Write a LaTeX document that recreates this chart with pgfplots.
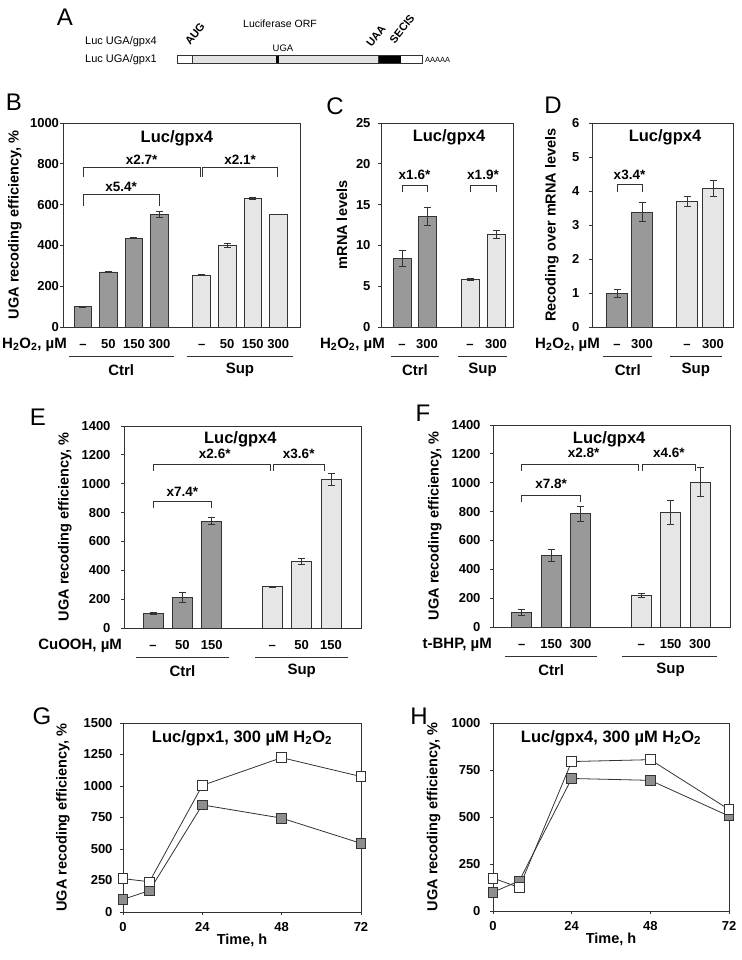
\documentclass[border=0pt]{standalone}
\usepackage{fontspec}
\setmainfont{Liberation Sans}
\usepackage{pgfplots}
\pgfplotsset{compat=1.18}
\definecolor{barD}{HTML}{999999}
\definecolor{barL}{HTML}{E6E6E6}
\definecolor{edge}{HTML}{333333}
\definecolor{sqD}{HTML}{8E8E8E}
\definecolor{orf}{HTML}{E2E2E2}
\newcommand{\fs}[1]{\fontsize{#1}{#1}\selectfont}
\pgfplotsset{
  myax/.style={scale only axis, anchor=south west, clip=false,
    axis line style={edge, line width=0.9pt},
    tick align=outside, major tick length=3pt, ytick pos=left, xtick pos=bottom,
    tick style={edge, line width=0.8pt},
    tick label style={font=\fs{13}\bfseries},
    /pgf/number format/assume math mode=true,
    /pgf/number format/1000 sep={},
    ylabel style={font=\fs{14.5}\bfseries, anchor=center},
    xlabel style={font=\fs{14.5}\bfseries, anchor=center},
  },
  baraxis/.style={myax, xtick style={draw=none}, ymin=0,
    xticklabel style={anchor=base, yshift=-18.5pt}},
  lineaxis/.style={myax, xticklabel style={anchor=base, yshift=-16.7pt}},
  ctrlbar/.style={ybar, bar shift=0pt, fill=barD, draw=edge, line width=0.8pt,
    error bars/.cd, y dir=both, y explicit,
    error bar style={line width=0.8pt, edge},
    error mark options={rotate=90, mark size=3.5pt, line width=0.8pt, edge}},
  supbar/.style={ybar, bar shift=0pt, fill=barL, draw=edge, line width=0.8pt,
    error bars/.cd, y dir=both, y explicit,
    error bar style={line width=0.8pt, edge},
    error mark options={rotate=90, mark size=3.5pt, line width=0.8pt, edge}},
}
\tikzset{
  brk/.style={edge, line width=0.8pt},
  ann/.style={font=\fs{13.5}\bfseries},
  ttl/.style={font=\fs{16.5}\bfseries},
  grp/.style={font=\fs{15}\bfseries},
  trt/.style={font=\fs{15}\bfseries, anchor=base east, inner sep=0pt},
  lett/.style={font=\fs{24}},
}
\begin{document}
\begin{tikzpicture}
\useasboundingbox (0pt,0pt) rectangle (741pt,-960pt);
% ---------------- Panel A (schematic)
\node[lett] at (65pt,-17pt) {A};
\node[font=\fs{11}, anchor=west, inner sep=0pt] at (85pt,-42pt) {Luc UGA/gpx4};
\node[font=\fs{11}, anchor=west, inner sep=0pt] at (85pt,-60pt) {Luc UGA/gpx1};
\fill[white] (177pt,-55pt) rectangle (422pt,-63pt);
\fill[orf] (192pt,-55pt) rectangle (276pt,-63pt);
\fill[black] (276pt,-55pt) rectangle (279pt,-63pt);
\fill[orf] (279pt,-55pt) rectangle (378pt,-63pt);
\fill[black] (379pt,-55pt) rectangle (401pt,-63pt);
\draw[edge, line width=0.5pt] (192pt,-55pt) -- (192pt,-63pt);
\draw[edge, line width=0.5pt] (378pt,-55pt) -- (378pt,-63pt);
\draw[edge, line width=0.7pt] (177pt,-55pt) rectangle (422pt,-63pt);
\node[font=\fs{10.5}] at (280pt,-24pt) {Luciferase ORF};
\node[font=\fs{9.5}] at (283pt,-48pt) {UGA};
\node[font=\fs{11}\bfseries, rotate=52, inner sep=0pt] at (195pt,-34pt) {AUG};
\node[font=\fs{11}\bfseries, rotate=52, inner sep=0pt] at (376pt,-36pt) {UAA};
\node[font=\fs{11}\bfseries, rotate=52, inner sep=0pt] at (402pt,-29pt) {SECIS};
\node[font=\fs{7.5}, anchor=west, inner sep=0pt] at (425pt,-60pt) {AAAAA};
% letters
\node[lett] at (14pt,-102pt) {B};
\node[lett] at (335pt,-106pt) {C};
\node[lett] at (553pt,-105pt) {D};
\node[lett] at (38pt,-417pt) {E};
\node[lett] at (423pt,-413pt) {F};
\node[lett] at (42pt,-716pt) {G};
\node[lett] at (419pt,-716pt) {H};
% ---------------- Panel B
\begin{axis}[baraxis, at={(63pt,-327pt)}, width=237pt, height=204pt,
  xmin=-0.78, xmax=8.5, ymax=1000, ytick={0,200,...,1000},
  bar width=0.69,
  xtick={0,1,2,3,4.65,5.65,6.65,7.65},
  xticklabels={\textendash,50,150,300,\textendash,50,150,300},
  yticklabel style={xshift=2.5pt},
  ylabel={UGA recoding efficiency, \%},
  ylabel style={at={(axis description cs:-0.2025,0.5)}}]
\addplot[ctrlbar] coordinates {(0,100) +- (0,2) (1,270) +- (0,4) (2,435) +- (0,3) (3,550) +- (0,15)};
\addplot[supbar] coordinates {(4.65,255) +- (0,3) (5.65,400) +- (0,8) (6.65,630) +- (0,5) (7.65,550) +- (0,0)};
\node[ttl] at (axis cs:3.68,926) {Luc/gpx4};
\draw[brk] (axis cs:0,595) |- (axis cs:3,650) -- (axis cs:3,595);
\node[ann] at (axis cs:1.5,688) {x5.4*};
\draw[brk] (axis cs:0,735) |- (axis cs:4.61,780) -- (axis cs:4.61,735);
\node[ann] at (axis cs:2.3,818) {x2.7*};
\draw[brk] (axis cs:4.69,735) |- (axis cs:7.63,780) -- (axis cs:7.63,735);
\node[ann] at (axis cs:6.16,818) {x2.1*};
\draw[brk] ([yshift=-29pt]axis cs:-0.55,0) -- ([yshift=-29pt]axis cs:3.58,0);
\draw[brk] ([yshift=-29pt]axis cs:4.07,0) -- ([yshift=-29pt]axis cs:8.23,0);
\node[grp] at ([yshift=-43pt]axis cs:1.5,0) {Ctrl};
\node[grp] at ([yshift=-43pt]axis cs:6.15,0) {Sup};
\node[trt] at ([yshift=-21.5pt]rel axis cs:0.017,0) {H\textsubscript{2}O\textsubscript{2}, µM};
\end{axis}
% ---------------- Panel C
\begin{axis}[baraxis, at={(381pt,-327pt)}, width=132pt, height=204pt,
  xmin=-0.84, xmax=4.44, ymax=25, ytick={0,5,...,25},
  bar width=0.72,
  xtick={0,1,2.72,3.76},
  xticklabels={\textendash,300,\textendash,300},
  yticklabel style={xshift=-4pt},
  ylabel={mRNA levels},
  ylabel style={at={(axis description cs:-0.295,0.5)}}]
\addplot[ctrlbar] coordinates {(0,8.4) +- (0,1.0) (1,13.6) +- (0,1.1)};
\addplot[supbar] coordinates {(2.72,5.8) +- (0,0.1) (3.76,11.3) +- (0,0.5)};
\node[ttl] at (axis cs:1.88,23.3) {Luc/gpx4};
\draw[brk] (axis cs:0,16.5) |- (axis cs:1,17.4) -- (axis cs:1,16.5);
\node[ann] at (axis cs:0.5,18.7) {x1.6*};
\draw[brk] (axis cs:2.72,16.5) |- (axis cs:3.76,17.4) -- (axis cs:3.76,16.5);
\node[ann] at (axis cs:3.24,18.7) {x1.9*};
\draw[brk] ([yshift=-29pt]axis cs:-0.44,0) -- ([yshift=-29pt]axis cs:1.48,0);
\draw[brk] ([yshift=-29pt]axis cs:2.24,0) -- ([yshift=-29pt]axis cs:4.2,0);
\node[grp] at ([yshift=-43pt]axis cs:0.52,0) {Ctrl};
\node[grp] at ([yshift=-43pt]axis cs:3.22,0) {Sup};
\node[trt] at ([yshift=-21.5pt]rel axis cs:0.03,0) {H\textsubscript{2}O\textsubscript{2}, µM};
\end{axis}
% ---------------- Panel D
\begin{axis}[baraxis, at={(592pt,-327pt)}, width=141pt, height=204pt,
  xmin=-1.0, xmax=4.64, ymax=6, ytick={0,1,...,6},
  bar width=0.86,
  xtick={0,1,2.8,3.84},
  xticklabels={\textendash,300,\textendash,300},
  yticklabel style={xshift=-6pt},
  ylabel={Recoding over mRNA levels},
  ylabel style={at={(axis description cs:-0.284,0.5)}}]
\addplot[ctrlbar] coordinates {(0,1.0) +- (0,0.12) (1,3.38) +- (0,0.28)};
\addplot[supbar] coordinates {(2.8,3.7) +- (0,0.15) (3.84,4.08) +- (0,0.23)};
\node[ttl] at (axis cs:1.92,5.59) {Luc/gpx4};
\draw[brk] (axis cs:0,3.98) |- (axis cs:1,4.18) -- (axis cs:1,3.98);
\node[ann] at (axis cs:0.5,4.48) {x3.4*};
\draw[brk] ([yshift=-29pt]axis cs:-0.55,0) -- ([yshift=-29pt]axis cs:1.4,0);
\draw[brk] ([yshift=-29pt]axis cs:2.12,0) -- ([yshift=-29pt]axis cs:4.19,0);
\node[grp] at ([yshift=-43pt]axis cs:0.43,0) {Ctrl};
\node[grp] at ([yshift=-43pt]axis cs:3.15,0) {Sup};
\node[trt] at ([yshift=-21.5pt]rel axis cs:0.057,0) {H\textsubscript{2}O\textsubscript{2}, µM};
\end{axis}
% ---------------- Panel E
\begin{axis}[baraxis, at={(124pt,-628pt)}, width=237pt, height=202pt,
  xmin=-0.99, xmax=7.08, ymax=1400, ytick={0,200,...,1400},
  bar width=0.68,
  xtick={0,1,2,4.06,5.06,6.06},
  xticklabels={\textendash,50,150,\textendash,50,150},
  yticklabel style={xshift=-7pt},
  ylabel={UGA recoding efficiency, \%},
  ylabel style={at={(axis description cs:-0.249,0.5)}}]
\addplot[ctrlbar] coordinates {(0,100) +- (0,5) (1,210) +- (0,35) (2,740) +- (0,25)};
\addplot[supbar] coordinates {(4.06,285) +- (0,5) (5.06,462) +- (0,20) (6.06,1030) +- (0,40)};
\node[ttl] at (axis cs:2.97,1310) {Luc/gpx4};
\draw[brk] (axis cs:0,832) |- (axis cs:2,875) -- (axis cs:2,832);
\node[ann] at (axis cs:1,945) {x7.4*};
\draw[brk] (axis cs:0,1090) |- (axis cs:3.98,1136) -- (axis cs:3.98,1090);
\node[ann] at (axis cs:2.1,1206) {x2.6*};
\draw[brk] (axis cs:4.08,1090) |- (axis cs:5.85,1136) -- (axis cs:5.85,1090);
\node[ann] at (axis cs:4.96,1206) {x3.6*};
\draw[brk] ([yshift=-29pt]axis cs:-0.58,0) -- ([yshift=-29pt]axis cs:2.6,0);
\draw[brk] ([yshift=-29pt]axis cs:3.48,0) -- ([yshift=-29pt]axis cs:6.64,0);
\node[grp] at ([yshift=-43pt]axis cs:1,0) {Ctrl};
\node[grp] at ([yshift=-43pt]axis cs:5.06,0) {Sup};
\node[trt] at ([yshift=-21.5pt]rel axis cs:-0.008,0) {CuOOH, µM};
\end{axis}
% ---------------- Panel F
\begin{axis}[baraxis, at={(493pt,-627pt)}, width=237pt, height=202pt,
  xmin=-0.98, xmax=7.08, ymax=1400, ytick={0,200,...,1400},
  bar width=0.68,
  xtick={0,1,2,4.06,5.06,6.06},
  xticklabels={\textendash,150,300,\textendash,150,300},
  yticklabel style={xshift=-6pt},
  ylabel={UGA recoding efficiency, \%},
  ylabel style={at={(axis description cs:-0.245,0.5)}}]
\addplot[ctrlbar] coordinates {(0,100) +- (0,20) (1,495) +- (0,40) (2,785) +- (0,50)};
\addplot[supbar] coordinates {(4.06,220) +- (0,15) (5.06,795) +- (0,85) (6.06,1005) +- (0,100)};
\node[ttl] at (axis cs:2.97,1303) {Luc/gpx4};
\draw[brk] (axis cs:0,868) |- (axis cs:2,915) -- (axis cs:2,868);
\node[ann] at (axis cs:1,991) {x7.8*};
\draw[brk] (axis cs:0,1083) |- (axis cs:3.97,1130) -- (axis cs:3.97,1083);
\node[ann] at (axis cs:2.1,1206) {x2.8*};
\draw[brk] (axis cs:4.09,1083) |- (axis cs:5.9,1130) -- (axis cs:5.9,1083);
\node[ann] at (axis cs:5.0,1206) {x4.6*};
\draw[brk] ([yshift=-29pt]axis cs:-0.58,0) -- ([yshift=-29pt]axis cs:2.54,0);
\draw[brk] ([yshift=-29pt]axis cs:3.42,0) -- ([yshift=-29pt]axis cs:6.64,0);
\node[grp] at ([yshift=-43pt]axis cs:1,0) {Ctrl};
\node[grp] at ([yshift=-43pt]axis cs:5.06,0) {Sup};
\node[trt] at ([yshift=-21.5pt]rel axis cs:-0.004,0) {t-BHP, µM};
\end{axis}
% ---------------- Panel G
\begin{axis}[lineaxis, at={(123pt,-912pt)}, width=238pt, height=189pt,
  xmin=0, xmax=72, ymin=0, ymax=1500, xtick={0,24,48,72}, ytick={0,250,...,1500},
  yticklabel style={xshift=-4pt},
  xlabel={Time, h}, xlabel style={at={(axis description cs:0.5,-0.148)}},
  ylabel={UGA recoding efficiency, \%},
  ylabel style={at={(axis description cs:-0.252,0.5)}}]
\addplot[edge, line width=0.8pt, mark=square*, mark size=4.8pt, mark options={fill=sqD, draw=edge, line width=0.8pt}] coordinates {(0,100) (8,170) (24,850) (48,745) (72,545)};
\addplot[edge, line width=0.8pt, mark=square*, mark size=4.8pt, mark options={fill=white, draw=edge, line width=0.8pt}] coordinates {(0,265) (8,240) (24,1005) (48,1225) (72,1075)};
\node[ttl] at (axis cs:36,1381) {Luc/gpx1, 300 µM H\textsubscript{2}O\textsubscript{2}};
\end{axis}
% ---------------- Panel H
\begin{axis}[lineaxis, at={(493pt,-911pt)}, width=236pt, height=188pt,
  xmin=0, xmax=72, ymin=0, ymax=1000, xtick={0,24,48,72}, ytick={0,250,...,1000},
  yticklabel style={xshift=-6pt},
  xlabel={Time, h}, xlabel style={at={(axis description cs:0.5,-0.149)}},
  ylabel={UGA recoding efficiency, \%},
  ylabel style={at={(axis description cs:-0.252,0.5)}}]
\addplot[edge, line width=0.8pt, mark=square*, mark size=4.8pt, mark options={fill=sqD, draw=edge, line width=0.8pt}] coordinates {(0,100) (8,160) (24,705) (48,695) (72,505)};
\addplot[edge, line width=0.8pt, mark=square*, mark size=4.8pt, mark options={fill=white, draw=edge, line width=0.8pt}] coordinates {(0,175) (8,125) (24,795) (48,805) (72,540)};
\node[ttl] at (axis cs:36,920) {Luc/gpx4, 300 µM H\textsubscript{2}O\textsubscript{2}};
\end{axis}
\end{tikzpicture}
\end{document}
